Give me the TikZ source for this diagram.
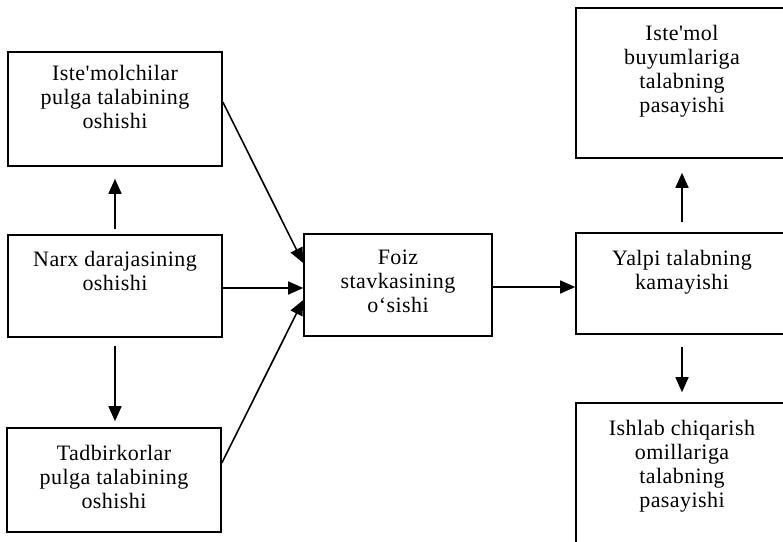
\documentclass[tikz,border=0pt]{standalone}
\usepackage{fontspec}
\setmainfont{Liberation Serif}[LetterSpace=2, Ligatures=TeXOff]
\usetikzlibrary{arrows.meta,positioning}

\begin{document}
\begin{tikzpicture}[
  x=1pt, y=-1pt,
  box/.style={draw, line width=1.6pt, inner sep=0pt},
  txt/.style={align=center, inner sep=0pt, font=\fontsize{22}{23.8}\selectfont},
  arrow/.style={-{Triangle[length=15pt,width=13pt]}, line width=1.6pt}
]
\useasboundingbox (0,0) rectangle (783,541);

% left column
\node[box, minimum width=214pt, minimum height=114pt] (cons) at (115,109) {};
\node[txt, below=14pt of cons.north] (consT) {Iste'molchilar\\pulga talabining\\oshishi};
\node[box, minimum width=214pt, minimum height=102pt] (price) at (115,286) {};
\node[txt, below=17pt of price.north] (priceT) {Narx darajasining\\oshishi};
\node[box, minimum width=214pt, minimum height=104pt] (firms) at (114,480) {};
\node[txt, below=18pt of firms.north] (firmsT) {Tadbirkorlar\\pulga talabining\\oshishi};

% centre
\node[box, minimum width=188pt, minimum height=102pt] (rate) at (398,285) {};
\node[txt, below=17pt of rate.north] (rateT) {Foiz\\stavkasining\\o‘sishi};

% right column
\node[box, minimum width=212pt, minimum height=150pt] (goods) at (682,83) {};
\node[txt, below=18pt of goods.north] (goodsT) {Iste'mol\\buyumlariga\\talabning\\pasayishi};
\node[box, minimum width=212pt, minimum height=101pt] (demand) at (682,283.5) {};
\node[txt, below=18pt of demand.north] (demandT) {Yalpi talabning\\kamayishi};
\node[box, minimum width=212pt, minimum height=146pt] (factors) at (682,476) {};
\node[txt, below=18pt of factors.north] (factorsT) {Ishlab chiqarish\\omillariga\\talabning\\pasayishi};

\draw[arrow, shorten <=5pt, shorten >=12pt] (price.north) -- (cons.south);
\draw[arrow, shorten <=8pt, shorten >=6pt] (price.south) -- (price.south |- firms.north);
\draw[arrow] ([yshift=-2pt]price.east) -- ([yshift=-2pt]price.east -| rate.west);
\draw[arrow] ([yshift=7pt]cons.east) -- ([yshift=22pt]rate.west);
\draw[arrow] ([yshift=17pt]firms.east) -- ([yshift=-15pt]rate.west);
\draw[arrow] ([yshift=-2pt]rate.east) -- ([yshift=-2pt]rate.east -| demand.west);
\draw[arrow, shorten <=10pt, shorten >=14pt] (demand.north) -- (goods.south);
\draw[arrow, shorten <=12pt, shorten >=10pt] (demand.south) -- (factors.north);

\end{tikzpicture}
\end{document}
